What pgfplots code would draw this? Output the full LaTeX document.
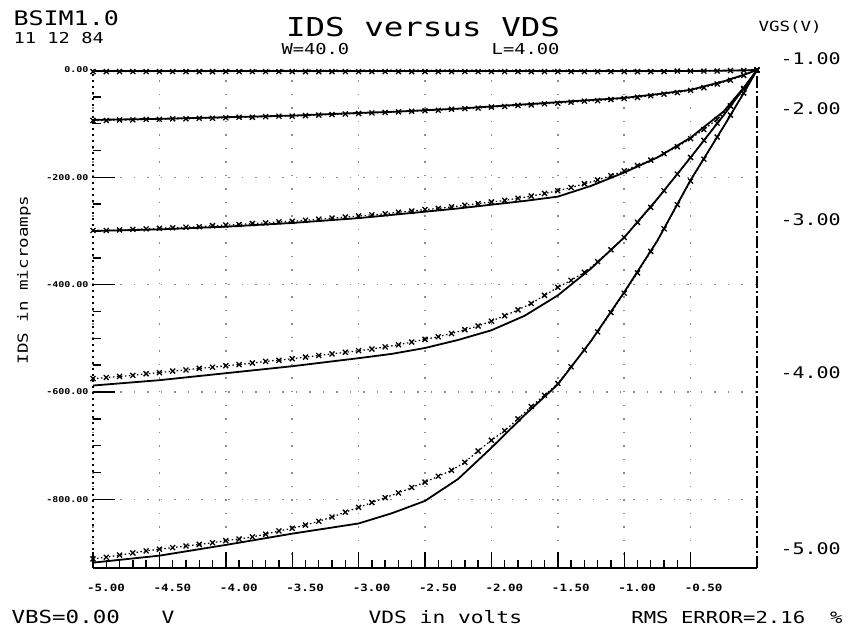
\documentclass[border=0pt]{standalone}
\usepackage{pgfplots}
\usepackage{pgfplotstable}
\pgfplotsset{compat=1.18}
\usepackage{fontspec}
\setmainfont{DejaVu Sans Mono}
\newfontfamily\plotfont[FakeStretch=1.25]{DejaVu Sans Mono}
\newcommand\pf[1]{\plotfont\fontsize{#1}{#1}\selectfont}

% simulated drain current (microamps) for VGS = -1 ... -5 V
\pgfplotstableread{
vds    s1     s2    s3    s4    s5
-5.00  -2    -93   -300  -588  -918
-4.50  -2    -91   -297  -578  -905
-4.00  -2    -88   -292  -565  -885
-3.50  -2    -85   -285  -552  -864
-3.00  -2    -80   -276  -537  -845
-2.75  -2    -78   -270  -529  -826
-2.50  -2    -75   -264  -518  -803
-2.25  -2    -72   -258  -503  -762
-2.00  -2    -68   -251  -485  -704
-1.75  -2    -64   -244  -458  -643
-1.50  -2    -60   -236  -420  -586
-1.25  -2    -56   -216  -370  -505
-1.00  -2    -52   -191  -312  -414
-0.75  -2    -45   -163  -240  -318
-0.50  -1.8  -37   -126  -163  -205
-0.25  -1.2  -21   -77   -84   -105
-0.10  -0.6  -9    -33   -34   -43
 0.00   0     0     0     0     0
}\simdata

% measured drain current (microamps)
\pgfplotstableread{
vds   m1   m2    m3    m4    m5
-5.0  -3   -94   -299  -575  -911
-4.9  -3   -94   -299  -573  -908
-4.8  -3   -93   -298  -571  -904
-4.7  -3   -93   -297  -569  -900
-4.6  -3   -92   -296  -566  -896
-4.5  -3   -92   -295  -564  -893
-4.4  -3   -91   -294  -561  -890
-4.3  -3   -91   -293  -559  -887
-4.2  -3   -90   -292  -556  -884
-4.1  -3   -90   -290  -554  -881
-4.0  -3   -89   -289  -551  -877
-3.9  -3   -88   -288  -549  -874
-3.8  -3   -88   -286  -546  -870
-3.7  -3   -87   -285  -543  -865
-3.6  -3   -86   -283  -541  -859
-3.5  -3   -86   -282  -538  -854
-3.4  -3   -85   -280  -535  -848
-3.3  -3   -84   -278  -532  -841
-3.2  -3   -83   -276  -529  -833
-3.1  -3   -82   -274  -526  -824
-3.0  -3   -81   -272  -523  -815
-2.9  -3   -80   -270  -520  -806
-2.8  -3   -79   -268  -516  -797
-2.7  -3   -78   -265  -512  -788
-2.6  -3   -77   -263  -507  -778
-2.5  -3   -76   -260  -502  -768
-2.4  -3   -75   -258  -497  -757
-2.3  -3   -73   -255  -491  -746
-2.2  -3   -72   -252  -484  -731
-2.1  -3   -71   -249  -477  -710
-2.0  -3   -69   -246  -468  -690
-1.9  -3   -68   -243  -458  -672
-1.8  -3   -66   -239  -447  -650
-1.7  -3   -65   -235  -435  -627
-1.6  -3   -63   -230  -420  -606
-1.5  -3   -62   -225  -405  -584
-1.4  -3   -60   -219  -392  -553
-1.3  -3   -58   -212  -377  -522
-1.2  -3   -57   -205  -357  -488
-1.1  -3   -55   -197  -335  -452
-1.0  -3   -53   -188  -312  -416
-0.9  -3   -51   -178  -284  -378
-0.8  -3   -48   -168  -256  -338
-0.7  -3   -45   -156  -225  -296
-0.6  -2   -42   -143  -194  -251
-0.5  -2   -38   -128  -163  -207
-0.4  -2   -33   -111  -131  -166
-0.3  -2   -26   -92   -99   -125
-0.2  -1   -19   -67   -67   -84
-0.1  -1   -10   -36   -34   -43
 0.0   0    0     0     0     0
}\measdata

\begin{document}
\begin{tikzpicture}
\path[use as bounding box] (0pt,0pt) rectangle (850pt,637pt);
\begin{axis}[
  at={(93pt,69pt)}, anchor=south west,
  scale only axis, width=664pt, height=498pt,
  xmin=-5, xmax=0, ymin=-928, ymax=0,
  clip=false,
  axis line style={draw=none},
  tick pos=left, tick align=inside,
  xtick={-5,-4.5,...,-0.5},
  xticklabels={-5.00,-4.50,-4.00,-3.50,-3.00,-2.50,-2.00,-1.50,-1.00,-0.50},
  minor x tick num=4,
  ytick={0,-200,-400,-600,-800},
  yticklabels={0.00,-200.00,-400.00,-600.00,-800.00},
  minor y tick num=3,
  major tick length=16pt, minor tick length=8pt,
  every tick/.style={black, line width=1.4pt},
  major y tick style={draw=none},
  xticklabel style={font={\pf{10}\bfseries}, anchor=center, yshift=-20pt, xshift=13pt},
  yticklabel style={font={\pf{8}\bfseries}, anchor=east, xshift=-1pt},
  grid=major,
  major grid style={draw=black!45, line width=1.5pt, dash pattern=on 1.5pt off 12pt},
  simline/.style={black, line width=1.8pt},
  measline/.style={black, line width=1.2pt, dash pattern=on 1.5pt off 2.5pt,
    mark=x, mark size=3.5pt, mark options={solid, line width=1.3pt}},
]
% frame: solid bottom, dotted left, dash-dot right
\draw[black, line width=1.6pt] (rel axis cs:0,0) -- (rel axis cs:1,0);
\draw[black, line width=1.2pt, dash pattern=on 2pt off 4pt] (rel axis cs:0,0) -- (rel axis cs:0,1);
\draw[black, line width=1.4pt, dash pattern=on 12pt off 3pt on 2pt off 3pt] (rel axis cs:1,0) -- (rel axis cs:1,1);
% long major ticks on the current axis
\draw[black, line width=1.6pt] (axis cs:-5,-200) -- ++(22pt,0pt);
\draw[black, line width=1.6pt] (axis cs:-5,-400) -- ++(22pt,0pt);
\draw[black, line width=1.6pt] (axis cs:-5,-600) -- ++(22pt,0pt);
\draw[black, line width=1.6pt] (axis cs:-5,-800) -- ++(22pt,0pt);

\addplot[measline] table[x=vds, y=m1] {\measdata};
\addplot[measline] table[x=vds, y=m2] {\measdata};
\addplot[measline] table[x=vds, y=m3] {\measdata};
\addplot[measline] table[x=vds, y=m4] {\measdata};
\addplot[measline] table[x=vds, y=m5] {\measdata};

\addplot[simline] table[x=vds, y=s1] {\simdata};
\addplot[simline] table[x=vds, y=s2] {\simdata};
\addplot[simline] table[x=vds, y=s3] {\simdata};
\addplot[simline] table[x=vds, y=s4] {\simdata};
\addplot[simline] table[x=vds, y=s5] {\simdata};
\end{axis}

% header
\node[anchor=west, font={\pf{20}}] at (10pt,619pt) {BSIM1.0};
\node[anchor=west, font={\pf{15}}] at (10pt,599pt) {11 12 84};
\node[font={\pf{26}}] at (423pt,610pt) {IDS versus VDS};
\node[anchor=west, font={\pf{15}}] at (278pt,588pt) {W=40.0};
\node[anchor=east, font={\pf{15}}] at (563pt,588pt) {L=4.00};

% gate voltage of each curve
\node[anchor=west, font={\pf{14}}] at (755pt,610pt) {VGS(V)};
\node[anchor=west, font={\pf{16}}] at (777pt,578pt) {-1.00};
\node[anchor=west, font={\pf{16}}] at (777pt,528pt) {-2.00};
\node[anchor=west, font={\pf{16}}] at (777pt,417pt) {-3.00};
\node[anchor=west, font={\pf{16}}] at (777pt,264pt) {-4.00};
\node[anchor=west, font={\pf{16}}] at (777pt,88pt) {-5.00};

% axis titles and footer
\node[rotate=90, font={\pf{14}}] at (24pt,357pt) {IDS in microamps};
\node[anchor=west, font={\pf{18}}] at (8pt,20pt) {VBS=0.00};
\node[anchor=west, font={\pf{17}}] at (158pt,20pt) {V};
\node[anchor=west, font={\pf{17}}] at (365pt,20pt) {VDS in volts};
\node[anchor=east, font={\pf{16.5}}] at (846pt,20pt) {RMS ERROR=2.16~~\%};
\end{tikzpicture}
\end{document}
